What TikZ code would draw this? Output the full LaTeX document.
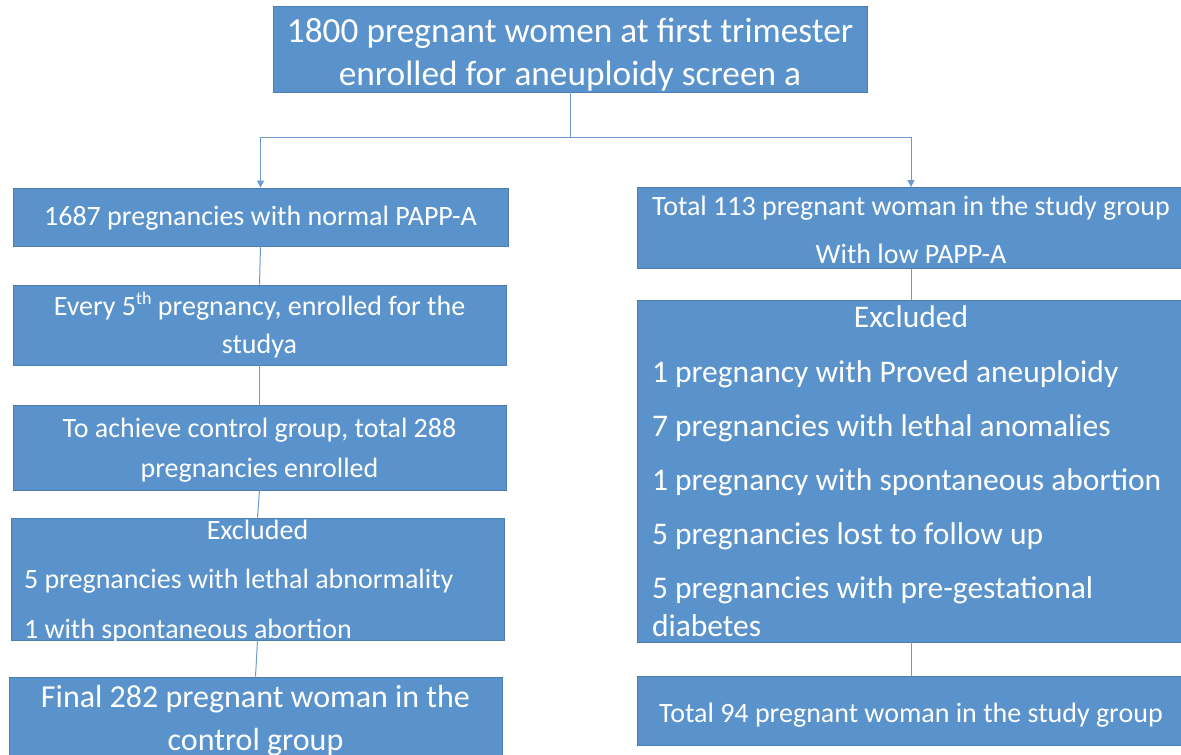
\documentclass[tikz,border=0pt]{standalone}
\usepackage{fontspec}
\setmainfont{Carlito}
\usetikzlibrary{arrows.meta}
\definecolor{boxblue}{HTML}{5A93CC}
\definecolor{boxedge}{HTML}{4C7DB3}
\definecolor{linkblue}{HTML}{6C9BD2}
\newcommand{\supth}{{\fontsize{18}{18}\selectfont\raisebox{11pt}{th}}}
\newcommand{\lline}[2]{\makebox[#1][l]{#2}}
\begin{document}
\begin{tikzpicture}[x=1pt,y=-1pt,
  box/.style={draw=boxedge, line width=0.8pt, fill=boxblue, text=white,
    inner sep=0pt, align=center},
  link/.style={draw=linkblue, line width=1pt},
  arr/.style={link, -{Triangle[length=7pt,width=7pt]}}]
\useasboundingbox (0,0) rectangle (1181,755);

% top
\node[box, minimum width=594pt, minimum height=86pt,
  font=\fontsize{35.3}{43}\selectfont] (top) at (570,49)
  {\rule{0pt}{36pt}1800 pregnant women at first trimester\\enrolled for aneuploidy screen a};

% left column
\node[box, minimum width=495pt, minimum height=58pt, text height=22pt, text depth=6pt,
  font=\fontsize{28}{34}\selectfont] (L1) at (260.5,217)
  {1687 pregnancies with normal PAPP-A};
\node[box, minimum width=493pt, minimum height=80pt,
  font=\fontsize{28}{38}\selectfont] (L2) at (259.5,325)
  {\rule{0pt}{23pt}Every 5\supth\ pregnancy, enrolled for the\\studya};
\node[box, minimum width=493pt, minimum height=85pt,
  font=\fontsize{28}{40}\selectfont] (L3) at (259.5,447.5)
  {\rule{0pt}{24pt}To achieve control group, total 288\\pregnancies enrolled};
\node[box, minimum width=493pt, minimum height=122pt,
  font=\fontsize{28}{49.5}\selectfont] (L4) at (257.5,579)
  {\makebox[467pt]{Excluded}\\\lline{467pt}{5 pregnancies with lethal abnormality}\\\smash{\lline{467pt}{1 with spontaneous abortion}}};
\node[box, minimum width=493pt, minimum height=88pt,
  font=\fontsize{32}{43}\selectfont] (L5) at (255.5,721)
  {Final 282 pregnant woman in the\\control group};

% right column
\node[box, minimum width=548pt, minimum height=81pt,
  font=\fontsize{28}{48}\selectfont] (R1) at (911,228)
  {\rule{0pt}{23pt}Total 113 pregnant woman in the study group\\With low PAPP-A};
\node[box, minimum width=548pt, minimum height=342pt,
  font=\fontsize{31.5}{38}\selectfont] (R2) at (911,471)
  {\makebox[518pt]{Excluded}\\[16.5pt]
   \lline{518pt}{1 pregnancy with Proved aneuploidy}\\[16pt]
   \lline{518pt}{7 pregnancies with lethal anomalies}\\[16pt]
   \lline{518pt}{1 pregnancy with spontaneous abortion}\\[16pt]
   \lline{518pt}{5 pregnancies lost to follow up}\\[16pt]
   \lline{518pt}{5 pregnancies with pre-gestational}\\
   \lline{518pt}{diabetes}};
\node[box, minimum width=548pt, minimum height=69pt, text height=27pt, text depth=4pt,
  font=\fontsize{28}{34}\selectfont] (R3) at (911,710.5)
  {Total 94 pregnant woman in the study group};

% connectors
\coordinate (split) at (570,137);
\draw[link] (top.south) -- (split);
\draw[arr] (split) -| (L1.north);
\draw[arr] (split) -| (R1.north);
\draw[link] (L1.south) -- (L2.north);
\draw[link] (L2.south) -- (L3.north);
\draw[link] (L3.south) -- (L4.north);
\draw[link] (L4.south) -- (L5.north);
\draw[link] (R1.south) -- (R2.north);
\draw[link] (R2.south) -- (R3.north);
\end{tikzpicture}
\end{document}
